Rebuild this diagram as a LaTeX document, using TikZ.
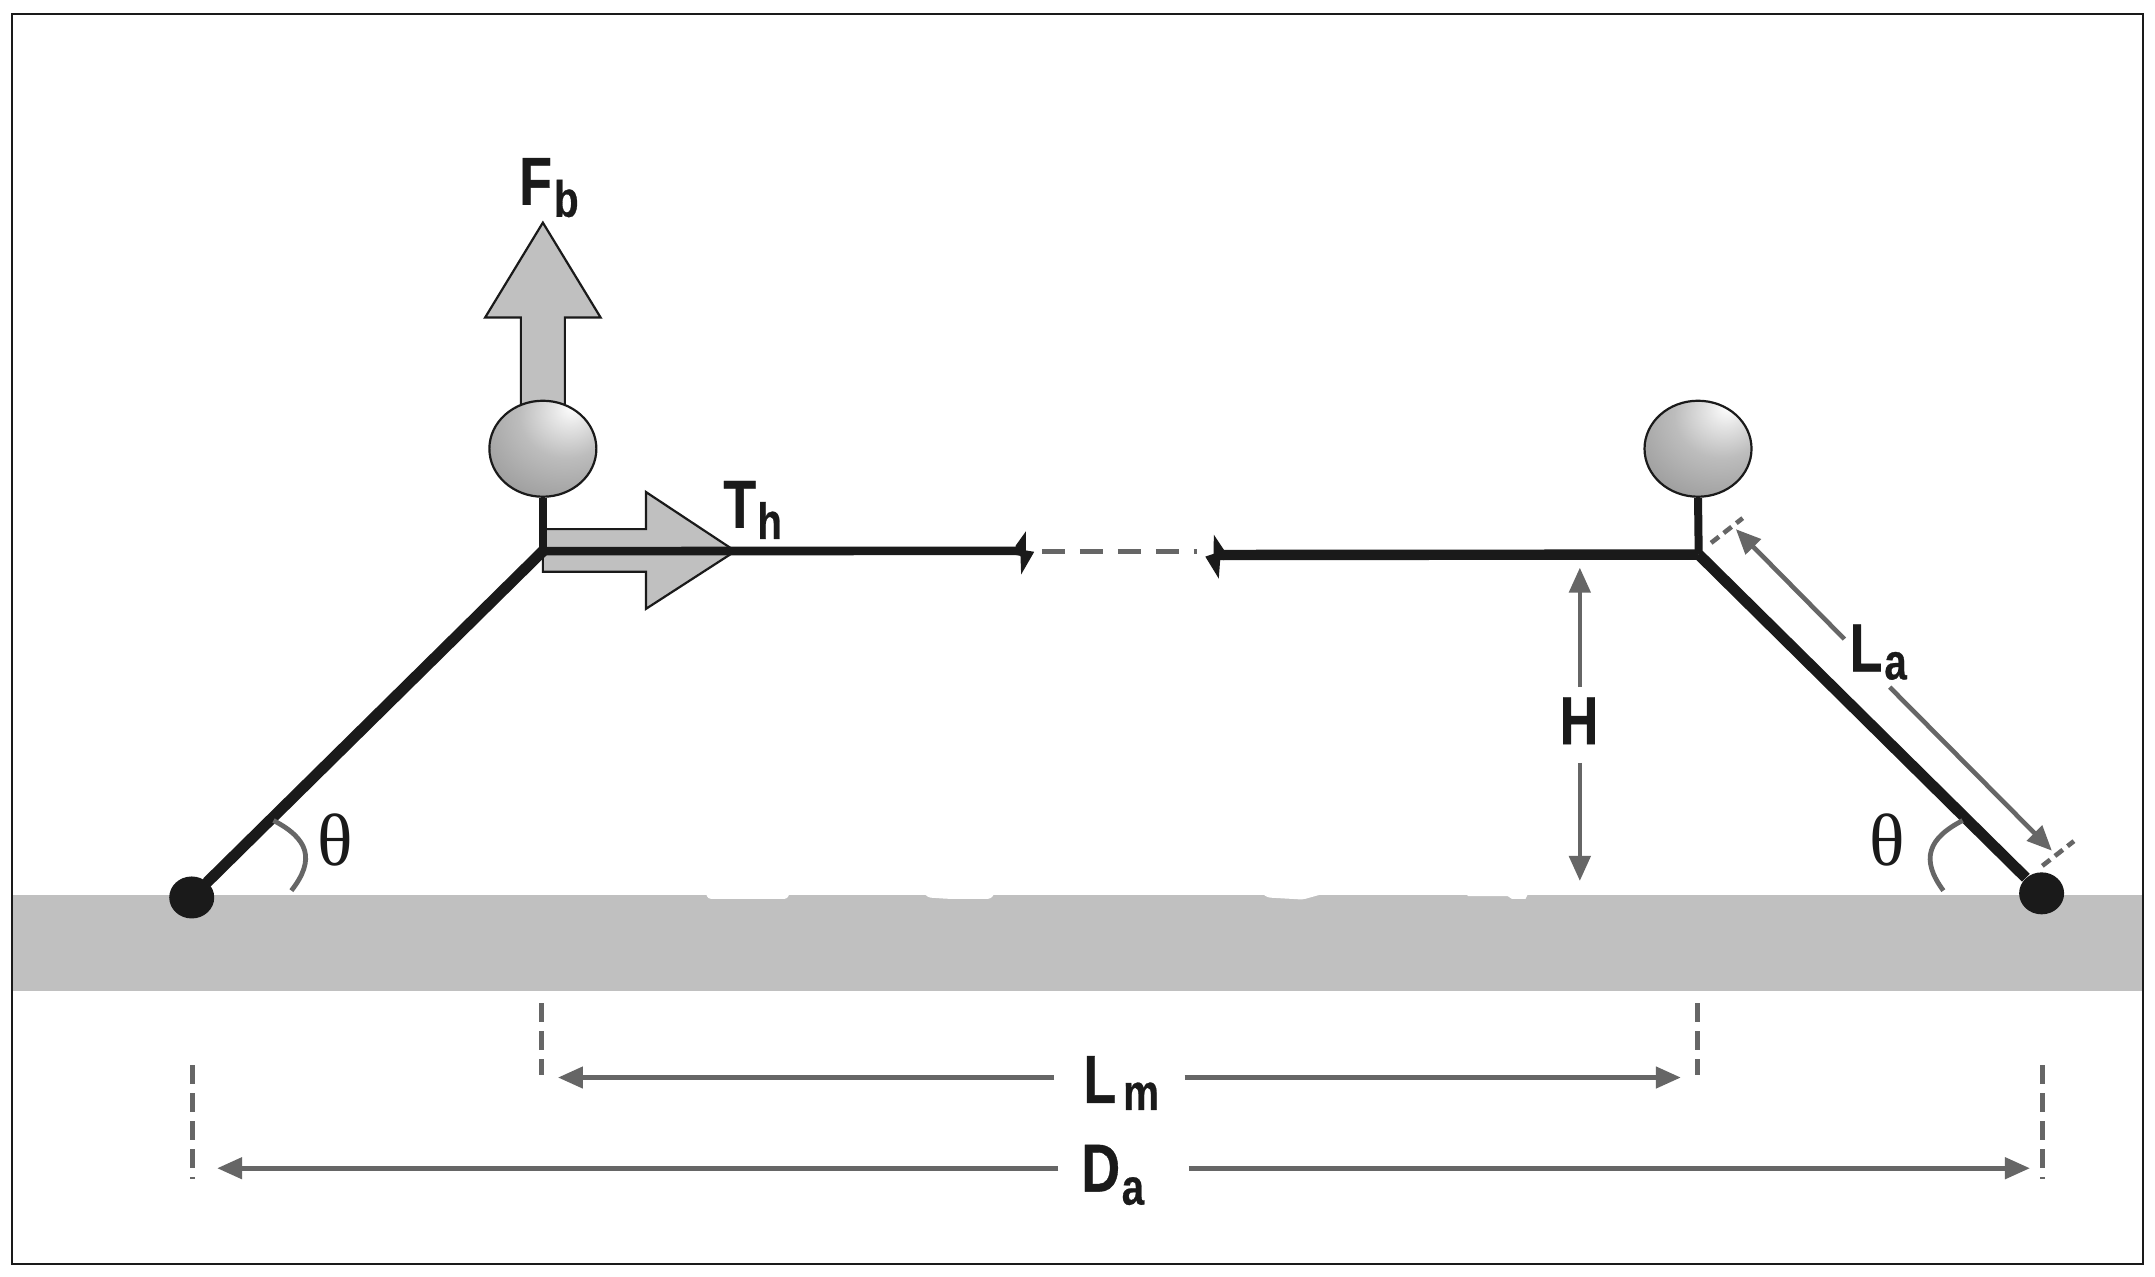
\documentclass[tikz,border=0pt]{standalone}
\usepackage{fontspec}
\setmainfont{Liberation Sans}
\newfontfamily\labfont[FakeStretch=0.79,FakeBold=0.5]{Liberation Sans Bold}
\newfontfamily\thetafont{Liberation Serif}
\usetikzlibrary{arrows.meta,shapes.geometric}
\definecolor{inkk}{HTML}{1A1A1A}
\definecolor{dimg}{HTML}{666666}
\definecolor{groundg}{HTML}{C0C0C0}
\pgfdeclareradialshading{balloonshade}{\pgfpoint{14bp}{22bp}}{
  color(0bp)=(white);
  color(8bp)=(white!90!black);
  color(22bp)=(white!74!black);
  color(38bp)=(white!64!black);
  color(55bp)=(white!52!black);
  color(75bp)=(white!44!black);
  color(100bp)=(white!38!black)}
\newcommand{\MyLab}[4]{{\fontsize{34}{34}\labfont #1}\kern#3pt\raisebox{-#4pt}{\fontsize{25.5}{25.5}\labfont #2}}
\tikzset{
  x=0.6872pt,y=-0.6872pt,
  beam/.style={draw=inkk,line width=4.3pt},
  arm/.style={draw=inkk,line width=5.5pt},
  stem/.style={draw=inkk,line width=4pt},
  dimline/.style={draw=dimg,line width=2.3pt},
  dimtip/.style={-{Triangle[length=12.5pt,width=10.5pt]}},
  dimdash/.style={dimline,dash pattern=on 9.5pt off 4.5pt},
  force/.style={draw=inkk,fill=groundg,line width=1.1pt,line join=miter},
  balloon/.style={ellipse,draw=inkk,line width=1.1pt,minimum width=53.5pt,minimum height=48pt,inner sep=0pt,shading=balloonshade},
  pivot/.style={ellipse,fill=inkk,minimum width=22.5pt,minimum height=21pt,inner sep=0pt},
  lab/.style={anchor=base west,inner sep=0pt,text=inkk},
  ang/.style={inner sep=0pt,text=inkk,font=\fontsize{37}{37}\thetafont},
  brk/.style={fill=inkk,draw=none},
}
\begin{document}
\begin{tikzpicture}
\useasboundingbox (0,0) rectangle (1568,929.1);
\fill[white] (0,0) rectangle (1568,929.1);
% ground
\fill[groundg] (9,651) rectangle (1559,721);
\fill[white,rounded corners=1.5pt] (513,648) -- (515,654) -- (573,654) -- (575,648) -- cycle;
\fill[white,rounded corners=1.5pt] (671,648) -- (675,653) -- (690,654) -- (721,654) -- (725,648) -- cycle;
\fill[white,rounded corners=1.5pt] (916,648) -- (922,653) -- (948,654.5) -- (971,648) -- cycle;
\fill[white] (1067,650) -- (1068,652) -- (1097,652) -- (1100,654) -- (1110,654) -- (1112,650) -- cycle;
% frame
\draw[inkk,line width=1pt] (9,10) rectangle (1559,920);
% named points
\coordinate (jl) at (395,401);
\coordinate (jr) at (1236,403.5);
\coordinate (bl) at (740,400.8);
\coordinate (br) at (890,403.8);
\coordinate (dl) at (758,401);
\coordinate (dr) at (871,401);
% force arrows
\draw[force] (395,162) -- (437,231) -- (411,231) -- (411,300) -- (379,300) -- (379,231) -- (353,231) -- cycle;
\draw[force] (535,401) -- (470,443) -- (470,416) -- (395,416) -- (395,385) -- (470,385) -- (470,358) -- cycle;
% balloons
\node[balloon] (bal) at (395,326.5) {};
\node[balloon] (bar) at (1235.5,326.5) {};
% pivots
\node[pivot] (pl) at (139.5,653) {};
\node[pivot] (pr) at (1485.5,650) {};
% structure
\draw[stem] (bal.south) -- (jl);
\draw[stem] (bar.south) -- (jr);
\draw[arm,line cap=round] (pl) -- (jl);
\draw[arm] (pr) -- (jr);
\draw[beam] (jl) -- (bl);
\draw[beam,line width=5.2pt] (jr) -- (br);
% breaks
\fill[brk] (739,397) -- (746.5,386.5) -- (746.5,400.5) -- (752.5,401.5) -- (743,418) -- (742.5,404.5) -- (739,403.8) -- cycle;
\fill[brk] (890.6,400.2) -- (883.2,389) -- (883,403) -- (877,405) -- (886.8,421) -- (887.8,407.5) -- (890.6,407.5) -- cycle;
\draw[dimline,line width=2.6pt,dash pattern=on 11.8pt off 7.2pt] (dl) -- (dr);
% H
\coordinate (ha) at (1149.5,413);
\coordinate (hb) at (1149.5,500);
\coordinate (hc) at (1149.5,555);
\coordinate (hd) at (1149.5,641);
\draw[dimline,dimtip] (hb) -- (ha);
\draw[dimline,dimtip] (hc) -- (hd);
% La
\coordinate (la1) at (1263,385);
\coordinate (la2) at (1342,465);
\coordinate (la3) at (1375,500);
\coordinate (la4) at (1493,619);
\draw[dimline,dimtip] (la2) -- (la1);
\draw[dimline,dimtip] (la3) -- (la4);
\coordinate (t1a) at (1245,395);
\coordinate (t1b) at (1268,377);
\coordinate (t2a) at (1486,630);
\coordinate (t2b) at (1509,612);
\draw[dimline,dash pattern=on 5pt off 3pt] (t1a) -- (t1b);
\draw[dimline,dash pattern=on 5pt off 3pt] (t2a) -- (t2b);
% Lm
\coordinate (lm1) at (406,784);
\coordinate (lm2) at (767,784);
\coordinate (lm3) at (862,784);
\coordinate (lm4) at (1223,784);
\draw[dimline,dimtip] (lm2) -- (lm1);
\draw[dimline,dimtip] (lm3) -- (lm4);
\coordinate (lmt1) at (394,730);
\coordinate (lmt2) at (394,782);
\coordinate (lmt3) at (1235,730);
\coordinate (lmt4) at (1235,782);
\draw[dimdash] (lmt1) -- (lmt2);
\draw[dimdash] (lmt3) -- (lmt4);
% Da
\coordinate (da1) at (158,850);
\coordinate (da2) at (770,850);
\coordinate (da3) at (865,850);
\coordinate (da4) at (1477,850);
\draw[dimline,dimtip] (da2) -- (da1);
\draw[dimline,dimtip] (da3) -- (da4);
\coordinate (dat1) at (140,775);
\coordinate (dat2) at (140,858);
\coordinate (dat3) at (1486,775);
\coordinate (dat4) at (1486,858);
\draw[dimdash] (dat1) -- (dat2);
\draw[dimdash] (dat3) -- (dat4);
% angle arcs
\coordinate (a1) at (199,597);
\coordinate (a2) at (212,648);
\coordinate (a3) at (1428,597);
\coordinate (a4) at (1414,648);
\draw[dimline,line width=2.4pt] (a1) .. controls (224,610) and (230,625) .. (a2);
\draw[dimline,line width=2.4pt] (a3) .. controls (1403,610) and (1397,625) .. (a4);
% labels
\node[lab] (fb) at (377.5,149) {\MyLab{F}{b}{1}{6}};
\node[lab] (th) at (526,384) {\MyLab{T}{h}{0.6}{5.6}};
\node[lab] (la) at (1345.5,488.5) {\MyLab{L}{a}{1}{4}};
\node[lab] (lm) at (788,802.5) {\MyLab{L}{m}{3.5}{3.5}};
\node[lab] (da) at (786.5,867) {\MyLab{D}{a}{0.8}{6.5}};
\node[lab] (h) at (1134.5,541.5) {{\fontsize{34}{34}\labfont H}};
\node[ang] (tl) at (244,611) {θ};
\node[ang] (tr) at (1373,611) {θ};
\end{tikzpicture}
\end{document}
